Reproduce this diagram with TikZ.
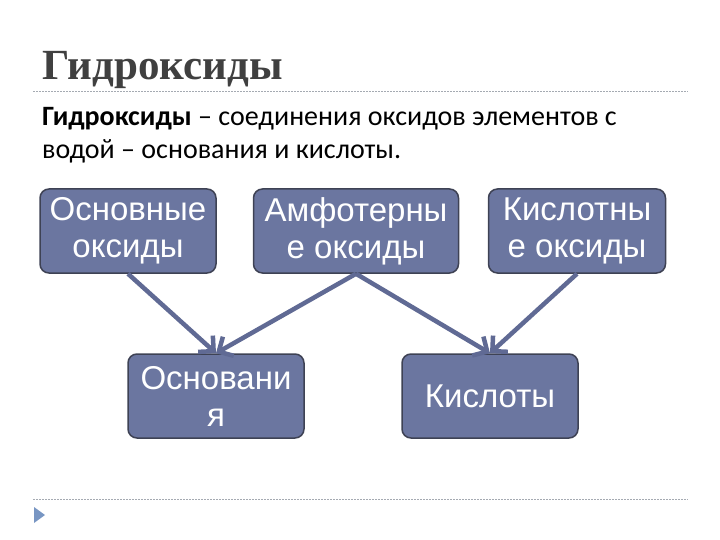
\documentclass[tikz,border=0pt]{standalone}
\usepackage{fontspec}
\setmainfont{Carlito}
\newfontfamily\boxfont{Liberation Sans}
\newfontfamily\headfont{Liberation Serif}
\usetikzlibrary{arrows.meta}
\definecolor{slate}{RGB}{107, 118, 160}
\definecolor{slateedge}{RGB}{62, 66, 84}
\definecolor{arrowink}{RGB}{96, 106, 148}
\definecolor{headink}{RGB}{64, 64, 64}
\definecolor{rulegray}{RGB}{165, 170, 178}
\definecolor{markblue}{RGB}{120, 150, 195}

\begin{document}
\begin{tikzpicture}[
    x=1pt, y=-1pt,
    head/.style={anchor=base west, inner sep=0pt, font=\headfont\bfseries\fontsize{43}{46}\selectfont\color{headink}},
    body/.style={anchor=base west, inner sep=0pt, align=left, font=\fontsize{28}{33}\selectfont\color{black}},
    box/.style={draw=slateedge, fill=slate, line width=1.5pt, rounded corners=9pt,
      minimum height=84pt, inner sep=1pt, align=center, text=white,
      font=\boxfont\fontsize{33}{37}\selectfont},
    arr/.style={-{Straight Barb[length=11pt, width=22pt]}, color=arrowink, line width=4.5pt},
    rule/.style={draw=rulegray, line width=0.8pt, dash pattern=on 2pt off 1pt},
  ]
    \useasboundingbox (0,0) rectangle (720,540);

    \node[head] (title) at (42,80) {Гидроксиды};
    \coordinate (rtl) at (33,91);
    \coordinate (rtr) at (688,91);
    \draw[rule] (rtl) -- (rtr);

    \node[body] (def) at (42,159) {\textbf{Гидроксиды} – соединения оксидов элементов с\\водой – основания и кислоты.};

    \node[box, minimum width=176pt] (osnox) at (128,231) {Основные\\оксиды};
    \node[box, minimum width=205pt] (amfox) at (356,231) {Амфотерны\\е оксиды};
    \node[box, minimum width=177pt] (kisox) at (577,231) {Кислотны\\е оксиды};

    \node[box, minimum width=176pt] (osn) at (216,396) {Основани\\я};
    \node[box, minimum width=176pt] (kis) at (490,396) {Кислоты};

    \draw[arr] (osnox.south) -- (osn.north);
    \draw[arr] (amfox.south) -- (osn.north);
    \draw[arr] (amfox.south) -- (kis.north);
    \draw[arr] (kisox.south) -- (kis.north);

    \coordinate (rbl) at (33,499);
    \coordinate (rbr) at (688,499);
    \draw[rule] (rbl) -- (rbr);
    \fill[markblue] (34,507) -- (34,523) -- (45,515) -- cycle;
\end{tikzpicture}
\end{document}
